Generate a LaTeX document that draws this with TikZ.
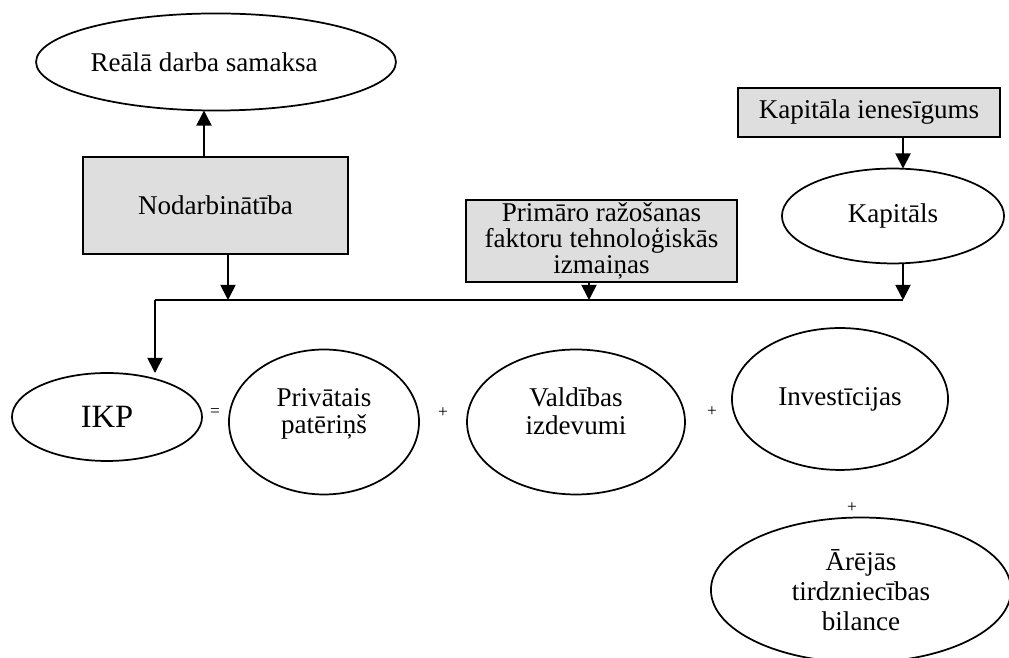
\documentclass[tikz,border=0pt]{standalone}
\usepackage{fontspec}
\setmainfont{Liberation Serif}
\usepackage{tikz}
\usetikzlibrary{arrows.meta,shapes.geometric}
\definecolor{boxgray}{HTML}{DEDEDE}

\begin{document}
\begin{tikzpicture}[x=.4615pt,y=-.4615pt,
  line width=.8pt,>={Triangle[width=7pt,length=7pt]},
  font=\fontsize{12.5}{14}\selectfont,
  oval/.style={ellipse,draw,inner sep=0pt,outer sep=0pt,align=center},
  twoline/.style={font=\fontsize{12.5}{12.8}\selectfont,text depth=10pt},
  gbox/.style={rectangle,draw,fill=boxgray,inner sep=0pt,outer sep=0pt,align=center},
  sign/.style={inner sep=0pt,font=\fontsize{8}{9}\selectfont}]
\path[use as bounding box] (0,0) rectangle (1009,658);

% augšējā daļa
\node[oval,minimum width=166.1pt,minimum height=44.8pt] (wage) at (216,62) {Reālā darba samaksa\hspace*{11pt}};
\node[gbox,minimum width=122.3pt,minimum height=44.8pt] (empl) at (215.5,205.5) {Nodarbinātība};
\node[gbox,minimum width=120.9pt,minimum height=22.6pt] (capret) at (869,112.5) {Kapitāla ienesīgums};
\node[oval,minimum width=102.5pt,minimum height=43.8pt] (capital) at (893,216) {Kapitāls};
\node[gbox,minimum width=125.1pt,minimum height=37.8pt,font=\fontsize{12.5}{12.2}\selectfont] (prim) at (601.5,241) {Primāro ražošanas\\faktoru tehnoloģiskās\\izmaiņas};

% IKP vienādojums
\node[oval,minimum width=87.7pt,minimum height=40.6pt,font=\fontsize{15}{14}\selectfont] (ikp) at (107,417) {IKP};
\node[sign] (eq) at (215,413) {=};
\node[oval,twoline,minimum width=87.7pt,minimum height=66.9pt] (priv) at (324,422) {Privātais\\patēriņš};
\node[sign] (plusA) at (443,413) {+};
\node[oval,twoline,minimum width=100.6pt,minimum height=66.9pt] (gov) at (576,422) {Valdības\\izdevumi};
\node[sign] (plusB) at (712,412) {+};
\node[oval,minimum width=99.7pt,minimum height=65.5pt] (inv) at (840,399) {Investīcijas};
\node[sign] (plusC) at (852,508) {+};
\node[oval,minimum width=138.5pt,minimum height=66.9pt] (trade) at (861,590) {Ārējās\\tirdzniecības\\bilance};

% kopējā līnija
\coordinate (busL) at (155,300);
\coordinate (busR) at (903,300);
\draw (busL) -- (busR);
\draw[->] (empl.north -| 204,0) -- (wage.south -| 204,0);
\draw[->] (empl.south -| 228,0) -- (busL -| 228,0);
\draw[->] (prim.south -| 589,0) -- (busL -| 589,0);
\draw[->] (capret.south -| busR) -- (capital.north -| busR);
\draw[->] (capital.south -| busR) -- (busR);
\draw[->] (busL) -- (ikp.north -| busL);
\end{tikzpicture}
\end{document}
